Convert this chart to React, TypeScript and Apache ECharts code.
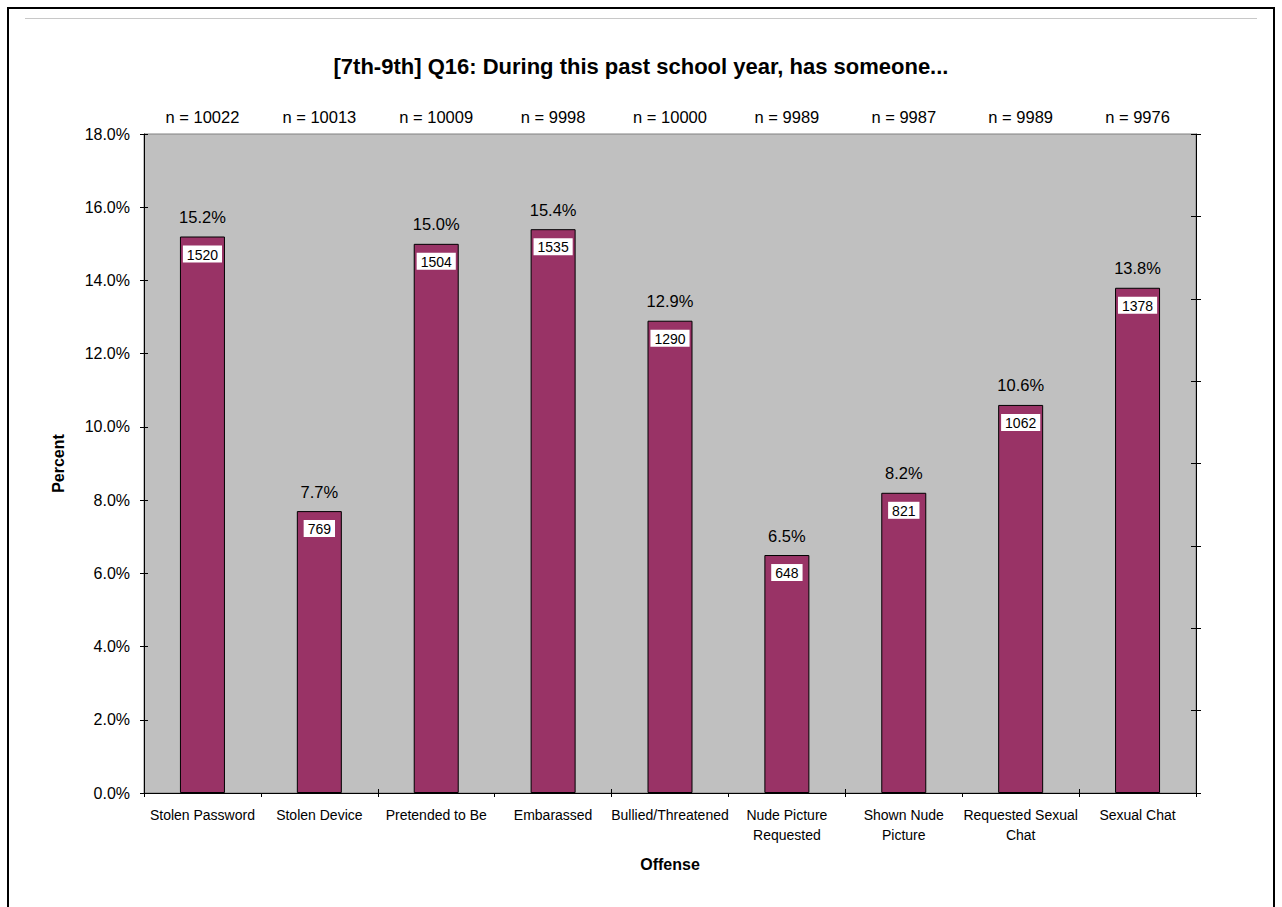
import React, { useEffect, useRef } from "react";
import * as echarts from "echarts";

const categories = [
  "Stolen Password",
  "Stolen Device",
  "Pretended to Be",
  "Embarassed",
  "Bullied/Threatened",
  "Nude Picture\nRequested",
  "Shown Nude\nPicture",
  "Requested Sexual\nChat",
  "Sexual Chat",
];
const percents = [15.2, 7.7, 15.0, 15.4, 12.9, 6.5, 8.2, 10.6, 13.8];
const counts = [1520, 769, 1504, 1535, 1290, 648, 821, 1062, 1378];
const sampleSizes = [10022, 10013, 10009, 9998, 10000, 9989, 9987, 9989, 9976];
const yTicks = [0, 2, 4, 6, 8, 10, 12, 14, 16, 18];

const FONT = "'Liberation Sans', Arial, sans-serif";

export default function App() {
  const ref = useRef<HTMLDivElement>(null);
  useEffect(() => {
    if (!ref.current) return;
    const chart = echarts.init(ref.current, null, { renderer: "svg" });
    const yMax = yTicks[yTicks.length - 1];
    const yInterval = yTicks[1] - yTicks[0];
    const option: any = {
      animation: false,
      backgroundColor: "#ffffff",
      textStyle: { fontFamily: FONT },
      title: {
        text: "[7th-9th] Q16: During this past school year, has someone...",
        left: "center",
        top: 55,
        padding: 0,
        textStyle: { fontFamily: FONT, fontSize: 22, fontWeight: "bold", color: "#000" },
      },
      graphic: [
        {
          type: "rect",
          shape: { x: 8, y: 8, width: 1266, height: 1000 },
          style: { fill: "none", stroke: "#000", lineWidth: 2 },
          silent: true,
        },
        {
          type: "line",
          shape: { x1: 25, y1: 18.5, x2: 1257, y2: 18.5 },
          style: { stroke: "#c8c8c8", lineWidth: 1 },
          silent: true,
        },
      ],
      grid: {
        left: 144,
        right: 86,
        top: 134,
        bottom: 114,
        show: true,
        backgroundColor: "#C0C0C0",
        borderColor: "#808080",
        borderWidth: 1,
      },
      xAxis: [
        {
          type: "category",
          data: categories,
          position: "bottom",
          name: "Offense",
          nameLocation: "middle",
          nameGap: 63,
          nameTextStyle: { fontFamily: FONT, fontSize: 16, fontWeight: "bold", color: "#000" },
          axisLine: { show: true, lineStyle: { color: "#000", width: 1 } },
          axisTick: { show: true, length: 4, lineStyle: { color: "#000" } },
          axisLabel: {
            interval: 0,
            margin: 12,
            fontFamily: FONT,
            fontSize: 14,
            lineHeight: 20,
            color: "#000",
          },
        },
        {
          type: "category",
          data: categories,
          position: "bottom",
          axisLine: { show: false },
          axisTick: { show: true, inside: true, length: 4, lineStyle: { color: "#000" } },
          axisLabel: { show: false },
        },
        {
          type: "category",
          data: sampleSizes.map((n) => "n = " + n),
          position: "top",
          axisLine: { show: false },
          axisTick: { show: false },
          axisLabel: {
            interval: 0,
            margin: 9,
            fontFamily: FONT,
            fontSize: 16.5,
            color: "#000",
          },
        },
      ],
      yAxis: [
        {
          type: "value",
          min: 0,
          max: yMax,
          interval: yInterval,
          position: "left",
          name: "Percent",
          nameLocation: "middle",
          nameGap: 78,
          nameTextStyle: { fontFamily: FONT, fontSize: 16, fontWeight: "bold", color: "#000" },
          axisLine: { show: true, lineStyle: { color: "#000", width: 1 } },
          axisTick: { show: true, length: 4, lineStyle: { color: "#000" } },
          splitLine: { show: false },
          axisLabel: {
            margin: 14,
            fontFamily: FONT,
            fontSize: 16,
            color: "#000",
            formatter: (v: number) => v.toFixed(1) + "%",
          },
        },
        {
          type: "value",
          min: 0,
          max: yMax,
          interval: yInterval,
          position: "left",
          axisLine: { show: false },
          axisTick: { show: true, inside: true, length: 4, lineStyle: { color: "#000" } },
          splitLine: { show: false },
          axisLabel: { show: false },
        },
        {
          type: "value",
          min: 0,
          max: 8,
          interval: 1,
          position: "right",
          axisLine: { show: true, lineStyle: { color: "#000", width: 1 } },
          axisTick: { show: true, length: 5, lineStyle: { color: "#000" } },
          splitLine: { show: false },
          axisLabel: { show: false },
        },
        {
          type: "value",
          min: 0,
          max: 8,
          interval: 1,
          position: "right",
          axisLine: { show: false },
          axisTick: { show: true, inside: true, length: 5, lineStyle: { color: "#000" } },
          splitLine: { show: false },
          axisLabel: { show: false },
        },
      ],
      series: [
        {
          type: "bar",
          xAxisIndex: 0,
          yAxisIndex: 0,
          data: percents,
          barWidth: 45,
          itemStyle: { color: "#993366", borderColor: "#000", borderWidth: 1 },
          label: {
            show: true,
            position: "top",
            distance: 11,
            fontFamily: FONT,
            fontSize: 16.5,
            color: "#000",
            formatter: (p: any) => Number(p.value).toFixed(1) + "%",
          },
          z: 2,
        },
        {
          type: "bar",
          xAxisIndex: 0,
          yAxisIndex: 0,
          data: percents,
          barWidth: 45,
          barGap: "-100%",
          itemStyle: { color: "rgba(0,0,0,0)" },
          label: {
            show: true,
            position: "insideTop",
            distance: 9,
            fontFamily: FONT,
            fontSize: 14,
            lineHeight: 14,
            color: "#000",
            backgroundColor: "#ffffff",
            padding: [2, 4, 1, 4],
            formatter: (p: any) => String(counts[p.dataIndex]),
          },
          z: 3,
        },
      ],
    };
    chart.setOption(option);
    return () => chart.dispose();
  }, []);
  return (
    <div
      ref={ref}
      style={{ position: "absolute", left: 0, top: 0, width: 1282, height: 907 }}
    />
  );
}
